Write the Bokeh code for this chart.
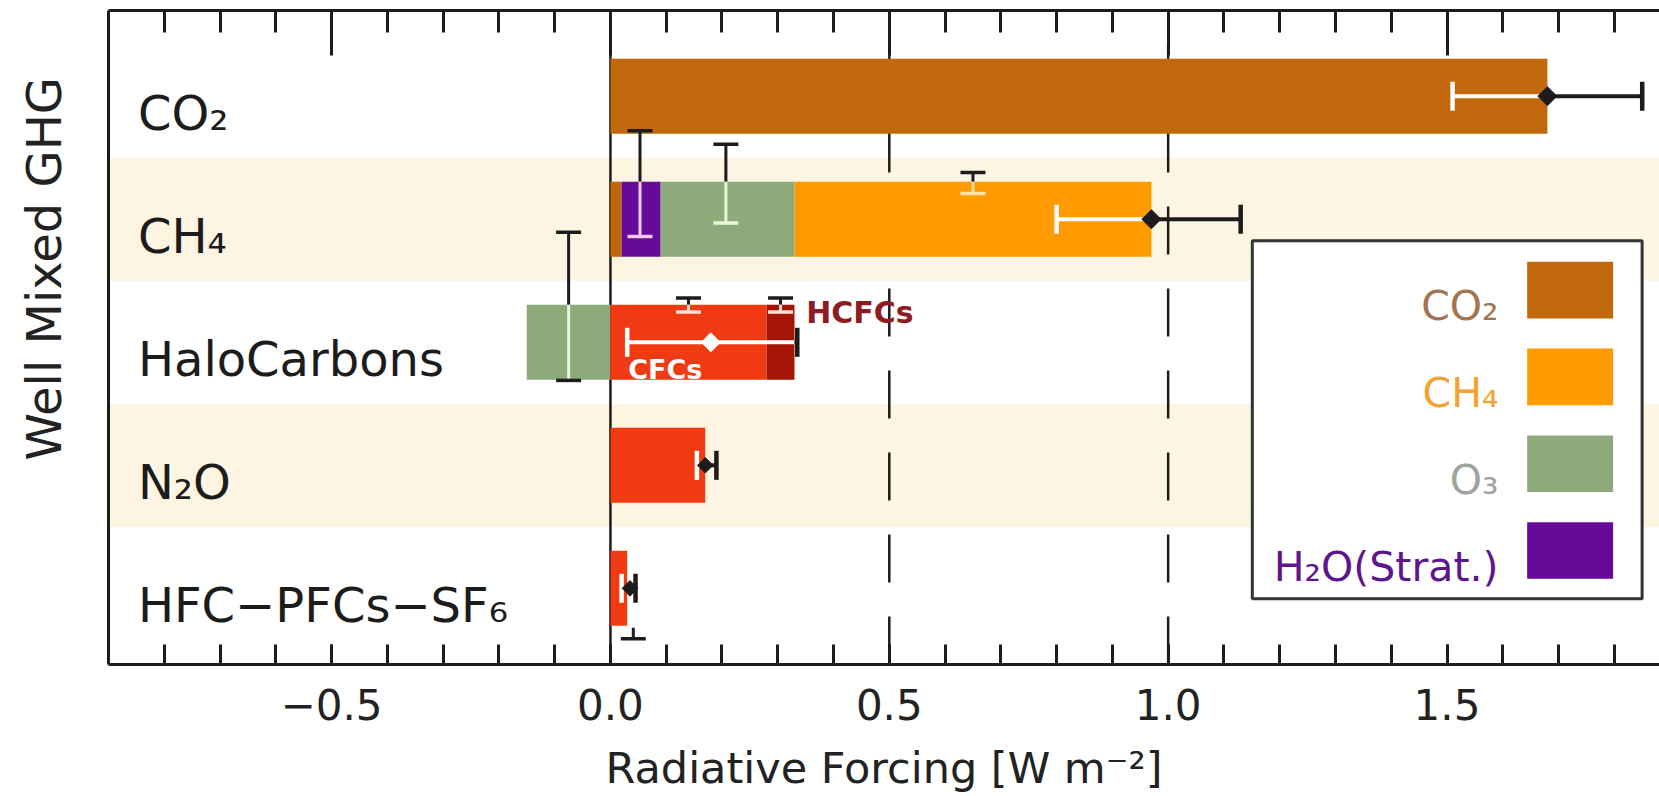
import numpy as np
from bokeh.plotting import figure
from bokeh.models import (Range1d, LinearAxis, FixedTicker, Label, BoxAnnotation,
                          CustomLabelingPolicy)
from bokeh.core.properties import value
from bokeh.embed import file_html
from bokeh.resources import INLINE

# ---------------- data ----------------
categories = ["CO₂", "CH₄", "HaloCarbons", "N₂O", "HFC−PFCs−SF₆"]

# forcing components (W m-2), stacked outward from zero in this order
co2_part    = [1.68, 0.02,  0.00, 0.00, 0.00]
h2o_part    = [0.00, 0.07,  0.00, 0.00, 0.00]
o3_part     = [0.00, 0.24, -0.15, 0.00, 0.00]
ch4_part    = [0.00, 0.64,  0.00, 0.00, 0.00]
direct_part = [0.00, 0.00,  0.28, 0.17, 0.03]   # CFCs / N2O / HFC-PFC-SF6
hcfc_part   = [0.00, 0.00,  0.05, 0.00, 0.00]

# total forcing and its uncertainty range
total_best = [1.68, 0.97, 0.18, 0.17, 0.035]
total_low  = [1.51, 0.80, 0.03, 0.155, 0.02]
total_high = [1.85, 1.13, 0.335, 0.19, 0.045]

# component uncertainty marks (drawn vertically, offsets in row units)
unc_cat    = [1, 1, 1, 2, 2, 2, 4]
unc_x      = [0.053, 0.207, 0.650, -0.075, 0.140, 0.305, 0.041]
unc_top    = [0.72, 0.61, 0.38, 0.895, 0.36, 0.36, -0.32]
unc_bottom = [-0.14, -0.03, 0.21, -0.31, 0.246, 0.246, -0.41]
unc_kind   = ["H2O", "O3", "CH4", "O3", "direct", "hcfc", "direct"]

major_ticks = [-0.5, 0.0, 0.5, 1.0, 1.5]
major_tick_labels = ["−0.5", "0.0", "0.5", "1.0", "1.5"]
minor_ticks = [-0.8, -0.7, -0.6, -0.5, -0.4, -0.3, -0.2, -0.1, 0.0, 0.1, 0.2, 0.3,
               0.4, 0.5, 0.6, 0.7, 0.8, 0.9, 1.0, 1.1, 1.2, 1.3, 1.4, 1.5, 1.6, 1.7, 1.8]

legend_keys = ["CO2", "CH4", "O3", "H2O"]
legend_labels = ["CO₂", "CH₄", "O₃", "H₂O(Strat.)"]

# ---------------- styles ----------------
FILL = {"CO2": "#C2680C", "H2O": "#660A99", "O3": "#8CAA7A", "CH4": "#FF9B00",
        "direct": "#F03A12", "hcfc": "#A51405"}
INNER = {"H2O": "#F0C8F0", "O3": "#E8F6DE", "CH4": "#FFE3A6",
         "direct": "#FFE0D6", "hcfc": "#FFE0D6"}
LEG_TEXT = {"CO2": "#A27452", "CH4": "#F4A232", "O3": "#9DA49D", "H2O": "#5E168C"}
DARK = "#1c1c1c"
FONT = "DejaVu Sans"

# ---------------- geometry ----------------
X_MIN, X_MAX = -0.9, 1.881
Y_MIN, Y_MAX = 0.381, 5.697
BAR_H = 0.61
HALF = BAR_H / 2
X0_PX, PXU, ROW_PX, Y1_PX = 609.5, 558.0, 122.9, 587.9


def px2x(px):
    return (px - X0_PX) / PXU


def px2y(py):
    return 1 + (Y1_PX - py) / ROW_PX


n = len(categories)
row_y = np.arange(n, 0, -1).astype(float)

p = figure(width=1659, height=796, x_range=Range1d(X_MIN, X_MAX), y_range=Range1d(Y_MIN, Y_MAX),
           x_axis_type=None, y_axis_type=None, output_backend="svg", toolbar_location=None,
           min_border_left=108, min_border_right=0, min_border_top=10, min_border_bottom=132,
           background_fill_color="white", border_fill_color="white", outline_line_color=None)

# alternating background bands
band_rows = row_y[1::2]
p.quad(left=X_MIN, right=X_MAX, bottom=band_rows - 0.5, top=band_rows + 0.5,
       fill_color="#FDF5E2", line_color=None)

# zero line and dashed reference lines
p.segment(x0=[0.0], y0=[Y_MIN], x1=[0.0], y1=[Y_MAX], line_color=DARK, line_width=2.5)
p.segment(x0=[0.5, 1.0], y0=[Y_MIN] * 2, x1=[0.5, 1.0], y1=[Y_MAX] * 2,
          line_color=DARK, line_width=2.5, line_dash="48 34")

# stacked bars
parts = [("CO2", co2_part), ("H2O", h2o_part), ("O3", o3_part), ("CH4", ch4_part),
         ("direct", direct_part), ("hcfc", hcfc_part)]
pos_base = np.zeros(n)
neg_base = np.zeros(n)
for key, vals in parts:
    v = np.array(vals, dtype=float)
    left = np.where(v >= 0, pos_base, neg_base + v)
    right = np.where(v >= 0, pos_base + v, neg_base)
    m = v != 0
    p.hbar(y=row_y[m], left=left[m], right=right[m], height=BAR_H,
           fill_color=FILL[key], line_color=None)
    pos_base = pos_base + np.where(v > 0, v, 0)
    neg_base = neg_base + np.where(v < 0, v, 0)
bar_end = pos_base
bar_start = neg_base

# total uncertainty (horizontal): white inside the bar, black outside
lo = np.array(total_low)
hi = np.array(total_high)
best = np.array(total_best)
CAP_H = 0.118
wx0, wx1, wy, bx0, bx1, by = [], [], [], [], [], []
cap_x, cap_y, cap_c = [], [], []
for i in range(n):
    if lo[i] < bar_end[i]:
        wx0.append(lo[i]); wx1.append(min(hi[i], bar_end[i])); wy.append(row_y[i])
    if hi[i] > bar_end[i]:
        bx0.append(max(lo[i], bar_end[i])); bx1.append(hi[i]); by.append(row_y[i])
    for cx in (lo[i], hi[i]):
        cap_x.append(cx); cap_y.append(row_y[i])
        cap_c.append("white" if cx < bar_end[i] - 1e-9 else DARK)
p.segment(x0=wx0, y0=wy, x1=wx1, y1=wy, line_color="white", line_width=4)
p.segment(x0=bx0, y0=by, x1=bx1, y1=by, line_color=DARK, line_width=4)
p.segment(x0=cap_x, y0=np.array(cap_y) - CAP_H, x1=cap_x, y1=np.array(cap_y) + CAP_H,
          line_color=cap_c, line_width=4.5)
dia_c = ["white" if best[i] < bar_end[i] - 0.01 else DARK for i in range(n)]
dia_s = [13.5, 13.5, 13.5, 11, 11]
p.scatter(x=best, y=row_y, marker="square", angle=np.pi / 4, size=dia_s,
          fill_color=dia_c, line_color=dia_c)

# component uncertainty marks (vertical)
CAP_W = 0.0224
sx0, sy0, sy1, sc = [], [], [], []
kx0, kx1, ky, kc = [], [], [], []
for j in range(len(unc_x)):
    i = unc_cat[j]
    x = unc_x[j]
    yc = row_y[i]
    top, bot = unc_top[j], unc_bottom[j]
    inside = bar_start[i] <= x <= bar_end[i]
    light = INNER[unc_kind[j]]
    if inside:
        if top > HALF:
            sx0.append(x); sy0.append(yc + max(bot, HALF)); sy1.append(yc + top); sc.append(DARK)
        lo_in, hi_in = max(bot, -HALF), min(top, HALF)
        if hi_in > lo_in:
            sx0.append(x); sy0.append(yc + lo_in); sy1.append(yc + hi_in); sc.append(light)
        if bot < -HALF:
            sx0.append(x); sy0.append(yc + bot); sy1.append(yc + min(top, -HALF)); sc.append(DARK)
        for cy in (top, bot):
            kx0.append(x - CAP_W); kx1.append(x + CAP_W); ky.append(yc + cy)
            kc.append(light if -HALF <= cy <= HALF else DARK)
    else:
        sx0.append(x); sy0.append(yc + bot); sy1.append(yc + top); sc.append(DARK)
        kx0.append(x - CAP_W); kx1.append(x + CAP_W); ky.append(yc + bot); kc.append(DARK)
p.segment(x0=sx0, y0=sy0, x1=sx0, y1=sy1, line_color=sc, line_width=3)
p.segment(x0=kx0, y0=ky, x1=kx1, y1=ky, line_color=kc, line_width=3.5)

# halocarbon sub-labels
halo_y = row_y[2]
p.text(x=[0.351], y=[halo_y + 0.245], text=["HCFCs"], text_font=value(FONT),
       text_font_style="bold", text_font_size="30px", text_color="#8E1A22",
       text_baseline="alphabetic", text_align="left")
p.text(x=[0.032], y=[halo_y - 0.22], text=["CFCs"], text_font=value(FONT),
       text_font_style="bold", text_font_size="27px", text_color="white",
       text_baseline="alphabetic", text_align="left")

# category labels inside the frame
label_drop = 16.5 / ROW_PX
p.text(x=[px2x(136.7)] * n, y=row_y - label_drop, text=categories, text_font=value(FONT),
       text_font_size="48px", text_color=DARK, text_baseline="alphabetic", text_align="left")

# ---------------- axes ----------------
NO_LABELS = CustomLabelingPolicy(code="for (const i of Array.from(indices)) indices.unset(i)")


def styled_axis(**kw):
    ax = LinearAxis(axis_line_color=DARK, axis_line_width=3,
                    major_tick_line_color=DARK, minor_tick_line_color=DARK,
                    major_tick_line_width=3, minor_tick_line_width=3,
                    major_tick_out=0, minor_tick_out=0, **kw)
    return ax


xb = styled_axis(ticker=FixedTicker(ticks=major_ticks, minor_ticks=minor_ticks),
                 major_tick_in=20, minor_tick_in=20,
                 major_label_overrides=dict(zip(major_ticks, major_tick_labels)),
                 major_label_text_font=FONT, major_label_text_font_size="42px",
                 major_label_text_color="#222222", major_label_standoff=24,
                 axis_label="Radiative Forcing [W m⁻²]", axis_label_text_font=FONT,
                 axis_label_text_font_size="43px", axis_label_text_font_style="normal",
                 axis_label_text_color="#222222", axis_label_standoff=20)
p.add_layout(xb, "below")

xt = styled_axis(ticker=FixedTicker(ticks=major_ticks, minor_ticks=minor_ticks),
                 major_tick_in=45, minor_tick_in=22,
                 major_label_policy=NO_LABELS, major_label_text_color=None,
                 major_label_text_font_size="10px", major_label_standoff=0)
p.add_layout(xt, "above")

# left spine carrying the y title (leading no-break spaces lift it as in the original)
yl = styled_axis(ticker=FixedTicker(ticks=[]), major_tick_in=0, minor_tick_in=0,
                 major_label_policy=NO_LABELS, major_label_text_color=None,
                 major_label_text_font_size="10px", major_label_standoff=0,
                 axis_label="\u00a0" * 9 + "Well Mixed GHG", axis_label_text_font=FONT,
                 axis_label_text_font_size="48px", axis_label_text_font_style="normal",
                 axis_label_text_color="#222222", axis_label_standoff=37)
p.add_layout(yl, "left")

# ---------------- legend ----------------
p.add_layout(BoxAnnotation(left=px2x(1251.7), right=px2x(1641.7), top=px2y(240.7),
                           bottom=px2y(598.3), fill_color="white", fill_alpha=1.0,
                           line_color="#333333", line_width=3, line_alpha=1.0))
SW_TOP = 261.7
SW_PITCH = 86.7
SW_H = 56.6
for k, (key, lab) in enumerate(zip(legend_keys, legend_labels)):
    top_px = SW_TOP + k * SW_PITCH
    p.add_layout(BoxAnnotation(left=px2x(1526.7), right=px2x(1612.7), top=px2y(top_px),
                               bottom=px2y(top_px + SW_H), fill_color=FILL[key],
                               fill_alpha=1.0, line_color=None))
    p.add_layout(Label(x=px2x(1498), y=px2y(top_px + SW_H / 2 + 16), text=lab,
                       text_align="right", text_baseline="alphabetic", text_font=FONT,
                       text_font_size="41px", text_color=LEG_TEXT[key]))

open("out.html", "w").write(file_html(p, INLINE))
